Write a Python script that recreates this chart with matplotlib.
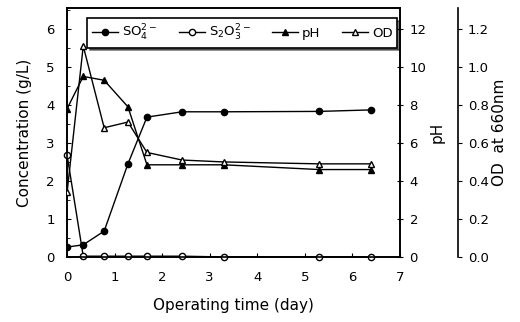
import matplotlib.pyplot as plt
from matplotlib.ticker import MultipleLocator, FormatStrFormatter

# data
days = [0, 0.34, 0.78, 1.28, 1.68, 2.42, 3.3, 5.3, 6.4]
so4 = [0.26, 0.32, 0.68, 2.45, 3.68, 3.82, 3.82, 3.83, 3.87]
s2o3 = [2.68, 0.02, 0.02, 0.02, 0.02, 0.02, 0.0, 0.0, 0.0]
ph = [7.8, 9.5, 9.3, 7.9, 4.85, 4.85, 4.85, 4.6, 4.6]
od = [0.34, 1.11, 0.68, 0.71, 0.55, 0.51, 0.5, 0.49, 0.49]

plt.rcParams["font.family"] = "DejaVu Sans"
plt.rcParams["axes.linewidth"] = 1.2

fig = plt.figure(figsize=(5.2, 3.22), dpi=100)
ax = fig.add_axes([0.129, 0.202, 0.64, 0.773])
ax_ph = ax.twinx()
ax_od = ax.twinx()
ax_od.spines["right"].set_position(("outward", 42))

kw = dict(color="k", lw=1.0, ms=4.5)
h1, = ax.plot(days, so4, "-o", mfc="k", label=r"SO$_4^{2-}$", **kw)
h2, = ax.plot(days, s2o3, "-o", mfc="white", label=r"S$_2$O$_3^{2-}$", clip_on=False, zorder=5, **kw)
h3, = ax_ph.plot(days, ph, "-^", mfc="k", label="pH", **kw)
h4, = ax_od.plot(days, od, "-^", mfc="white", label="OD", **kw)

ax.set_xlim(0, 7)
ax.set_ylim(0, 6.55)
ax_ph.set_ylim(0, 13.1)
ax_od.set_ylim(0, 1.31)

ax.xaxis.set_major_locator(MultipleLocator(1))
ax.yaxis.set_major_locator(MultipleLocator(1))
ax.yaxis.set_minor_locator(MultipleLocator(0.5))
ax.tick_params(axis="both", direction="in", labelsize=9.5, length=3)
ax.tick_params(axis="y", which="minor", direction="in", length=2)
ax.tick_params(axis="y", pad=9)
ax.tick_params(axis="x", pad=10)

ax_ph.yaxis.set_major_locator(MultipleLocator(2))
ax_ph.tick_params(axis="y", direction="inout", length=4, labelsize=9.5, pad=5)

ax_od.yaxis.set_major_locator(MultipleLocator(0.2))
ax_od.yaxis.set_major_formatter(FormatStrFormatter("%.1f"))
ax_od.tick_params(axis="y", direction="out", length=3, labelsize=9.5, pad=4)
for s in ["top", "left", "bottom"]:
    ax_od.spines[s].set_visible(False)

ax.set_xlabel("Operating time (day)", fontsize=11, labelpad=10)
ax.set_ylabel("Concentration (g/L)", fontsize=11, labelpad=10)
ax_ph.set_ylabel("pH", fontsize=11, labelpad=2)
ax_od.set_ylabel("OD  at 660nm", fontsize=11, labelpad=2)

leg = ax.legend(handles=[h1, h2, h3, h4], loc="upper left", ncol=4,
                bbox_to_anchor=(0.04, 0.985), fontsize=9.5, frameon=True,
                fancybox=False, edgecolor="k", handlelength=2.0,
                columnspacing=1.6, handletextpad=0.3, borderpad=0.35,
                shadow={"color": "k", "ox": 2, "oy": -2})
leg.get_frame().set_linewidth(1.2)

fig.savefig("out.png", dpi=100)
